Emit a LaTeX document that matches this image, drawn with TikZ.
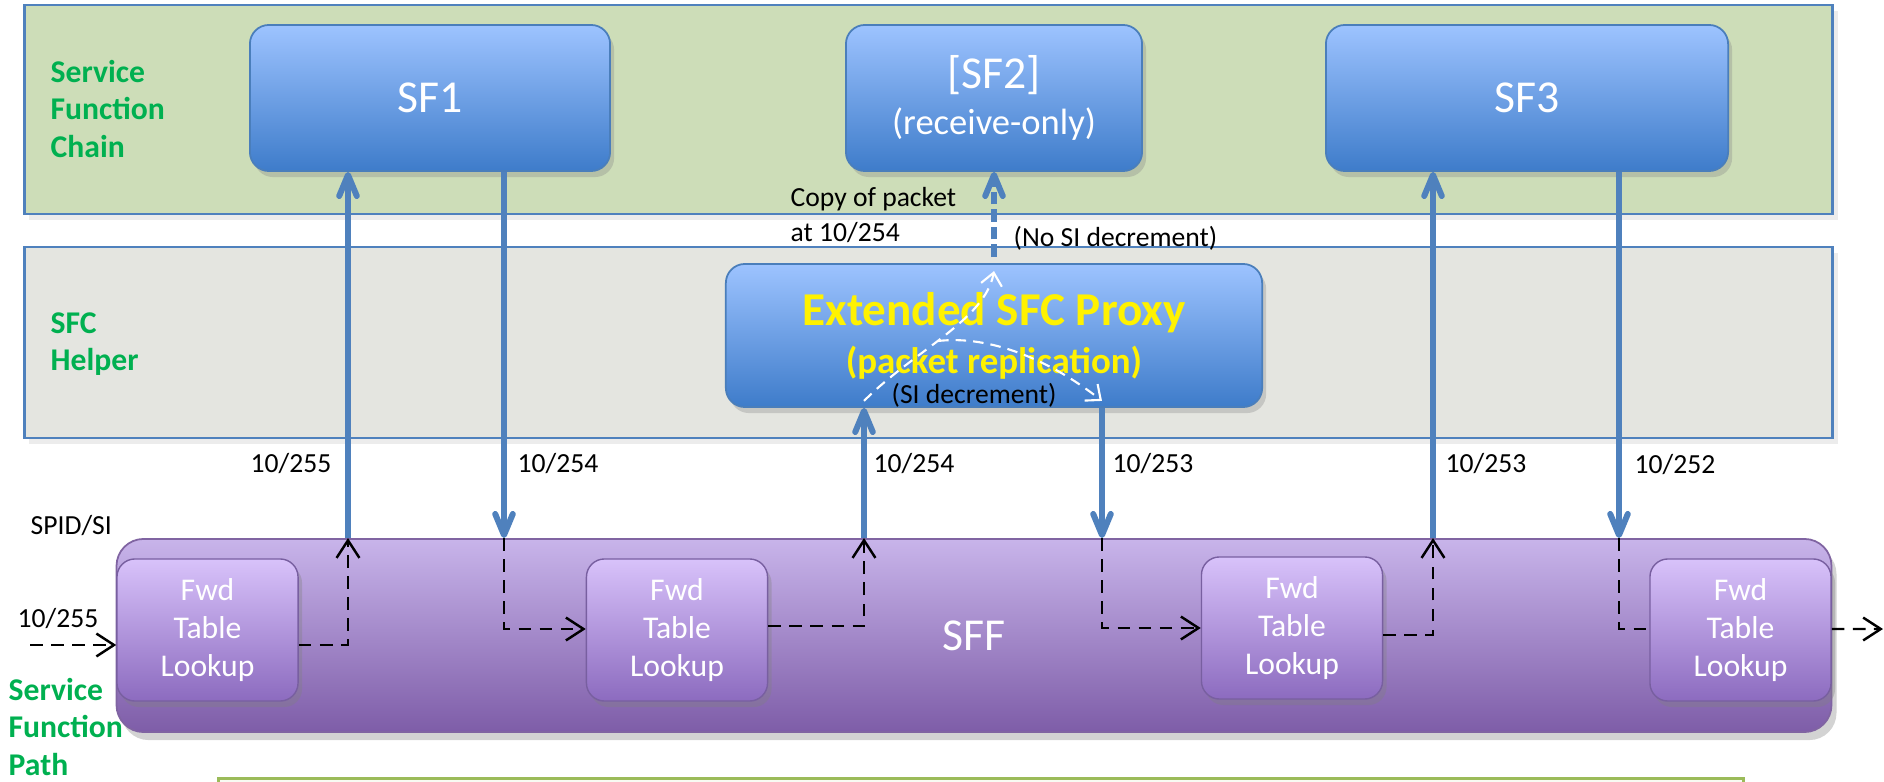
\documentclass[tikz,border=0pt]{standalone}
\usepackage{fontspec}
\setmainfont{Carlito}
\usetikzlibrary{positioning,arrows.meta,shadows}

\definecolor{bandgreen}{RGB}{205,221,184}
\definecolor{bandgray}{RGB}{228,229,224}
\definecolor{bandline}{RGB}{79,129,189}
\definecolor{sftop}{RGB}{157,195,255}
\definecolor{sfbot}{RGB}{62,124,202}
\definecolor{sfline}{RGB}{74,126,187}
\definecolor{fftop}{RGB}{200,180,234}
\definecolor{ffbot}{RGB}{126,93,168}
\definecolor{sffline}{RGB}{128,100,162}
\definecolor{fwdtop}{RGB}{216,194,250}
\definecolor{fwdbot}{RGB}{140,107,191}
\definecolor{fwdline}{RGB}{120,95,160}
\definecolor{pathblue}{RGB}{79,129,189}
\definecolor{lblgreen}{RGB}{0,176,80}
\definecolor{notegreen}{RGB}{155,187,89}
\definecolor{notefill}{RGB}{248,251,243}

\begin{document}
\begin{tikzpicture}[
  x=0.01cm, y=-0.01cm,
  band/.style={draw=bandline, line width=0.6pt, inner sep=0pt,
    drop shadow={opacity=0.15, shadow xshift=0.5mm, shadow yshift=-0.6mm}},
  sfbox/.style={draw=sfline, line width=0.5pt, rounded corners=1.9mm,
    top color=sftop, bottom color=sfbot, text=white, align=center,
    inner sep=0pt, minimum height=1.46cm, font=\fontsize{13}{13}\selectfont,
    drop shadow={opacity=0.3, shadow xshift=0.4mm, shadow yshift=-0.6mm}},
  proxy/.style={sfbox, text=yellow, minimum height=1.43cm,
    font=\fontsize{13.4}{13.7}\selectfont\bfseries},
  sffbox/.style={draw=sffline, line width=0.5pt, rounded corners=2.7mm,
    top color=fftop, bottom color=ffbot, text=white, inner sep=0pt,
    font=\fontsize{13}{15}\selectfont,
    drop shadow={opacity=0.35, shadow xshift=0.5mm, shadow yshift=-0.8mm}},
  fwd/.style={draw=fwdline, line width=0.4pt, rounded corners=1.8mm,
    top color=fwdtop, bottom color=fwdbot, text=white, align=center,
    inner sep=0pt, minimum width=1.81cm, minimum height=1.42cm,
    font=\fontsize{9}{10.9}\selectfont,
    drop shadow={opacity=0.35, shadow xshift=0.4mm, shadow yshift=-0.6mm}},
  flow/.style={draw=pathblue, line width=1.7pt,
    -{Straight Barb[length=6pt,width=5pt,round]}},
  pkt/.style={line width=0.7pt, dash pattern=on 3.6pt off 2.4pt,
    -{Straight Barb[length=5pt,width=6.5pt]}},
  wpkt/.style={draw=white, line width=0.6pt, dash pattern=on 3pt off 2pt,
    -{Straight Barb[length=3.5pt,width=6pt]}},
  lbl/.style={font=\fontsize{7.85}{10}\selectfont, inner sep=0pt, anchor=west},
  tier/.style={font=\fontsize{9}{10.7}\selectfont\bfseries, text=lblgreen,
    align=left, inner sep=0pt, anchor=west},
]
\useasboundingbox (0,0) rectangle (1884,782);

% layers
\node (chain) [band, fill=bandgreen, minimum width=18.07cm, minimum height=2.09cm] at (928.5,109.5) {};
\node (helper) [band, fill=bandgray, minimum width=18.07cm, minimum height=1.91cm] at (928.5,342.5) {};
\node (note) [draw=notegreen, fill=notefill, line width=0.8pt, inner sep=0pt, anchor=north west,
  minimum width=15.24cm, minimum height=0.6cm] at (217,777) {};

% service functions
\node (sf1) [sfbox, minimum width=3.6cm] at (430,98) {SF1};
\node (sf2) [sfbox, minimum width=2.96cm] at (994,98) {[SF2]\\{\fontsize{10.4}{13}\selectfont(receive-only)}};
\node (sf3) [sfbox, minimum width=4.02cm] at (1527,98) {SF3};
\node (proxybox) [proxy, minimum width=5.36cm] at (994,335.5) {Extended SFC Proxy\\{\fontsize{10.5}{13}\selectfont(packet replication)}};

% forwarder
\node (sff) [sffbox, minimum width=17.14cm, minimum height=1.93cm] at (974,635.5) {SFF};
\node (fwd1) [fwd] at (207.5,630) {Fwd\\Table\\Lookup};
\node (fwd2) [fwd] at (677,630) {Fwd\\Table\\Lookup};
\node (fwd3) [fwd] at (1292,628) {Fwd\\Table\\Lookup};
\node (fwd4) [fwd] at (1740.5,630) {Fwd\\Table\\Lookup};

\coordinate (c1) at (348,0);
\coordinate (c2) at (504,0);
\coordinate (c3) at (864,0);
\coordinate (c4) at (1102,0);
\coordinate (c5) at (1433,0);
\coordinate (c6) at (1619,0);
\coordinate (in) at (30,645);
\coordinate (out) at (1883,629);
\coordinate (split) at (938,341);

% packet path in the SFF
\draw[pkt] (in) -- (in -| fwd1.west);
\draw[pkt] ([yshift=-1.5mm]fwd1.east) -| (sff.north -| c1);
\draw[pkt] (sff.north -| c2) |- ([yshift=0.1mm]fwd2.west);
\draw[pkt] ([yshift=0.4mm]fwd2.east) -| (sff.north -| c3);
\draw[pkt] (sff.north -| c4) |- (fwd3.west);
\draw[pkt] ([yshift=-0.7mm]fwd3.east) -| (sff.north -| c5);
\draw[pkt, -] (sff.north -| c6) |- ([yshift=0.1mm]fwd4.west);
\draw[pkt] ([yshift=0.1mm]fwd4.east) -- (out);

% to and from the SFs
\draw[flow] (sff.north -| c1) -- (sf1.south -| c1);
\draw[flow] (sf1.south -| c2) -- (sff.north -| c2);
\draw[flow] (sff.north -| c3) -- (proxybox.south -| c3);
\draw[flow] (proxybox.south -| c4) -- (sff.north -| c4);
\draw[flow] (sff.north -| c5) -- (sf3.south -| c5);
\draw[flow] (sf3.south -| c6) -- (sff.north -| c6);
\draw[flow, dash pattern=on 3.6pt off 1.4pt] ([yshift=0.6mm]proxybox.north) -- (sf2.south);

% replication inside the proxy
\draw[wpkt] ([yshift=0.7mm]proxybox.south -| c3) .. controls (915,350) and (985,320) .. ([yshift=-0.8mm]proxybox.north);
\draw[wpkt] (split) .. controls (990,335) and (1050,360) .. ([yshift=0.7mm]proxybox.south -| c4);

% labels
\node (in255) [lbl] at (250,464) {10/255};
\node (ret254) [lbl] at (517,464) {10/254};
\node (to254) [lbl] at (873,464) {10/254};
\node (back253) [lbl] at (1112,464) {10/253};
\node (to253) [lbl] at (1445,464) {10/253};
\node (ret252) [lbl] at (1634,465) {10/252};
\node (spid) [lbl] at (30,525) {SPID/SI};
\node (start) [lbl] at (17,619) {10/255};
\node (copy) [lbl, align=left] at (790,215) {Copy of packet\\at 10/254};
\node (nodec) [lbl] at (1013,238) {(No SI decrement)};
\node (dec) [lbl] at (891,395) {(SI decrement)};

\node (chainlbl) [tier] at (50,109) {Service\\Function\\Chain};
\node (helperlbl) [tier] at (50,344) {SFC\\Helper};
\node (pathlbl) [tier] at (8,727) {Service\\Function\\Path};

\end{tikzpicture}
\end{document}
